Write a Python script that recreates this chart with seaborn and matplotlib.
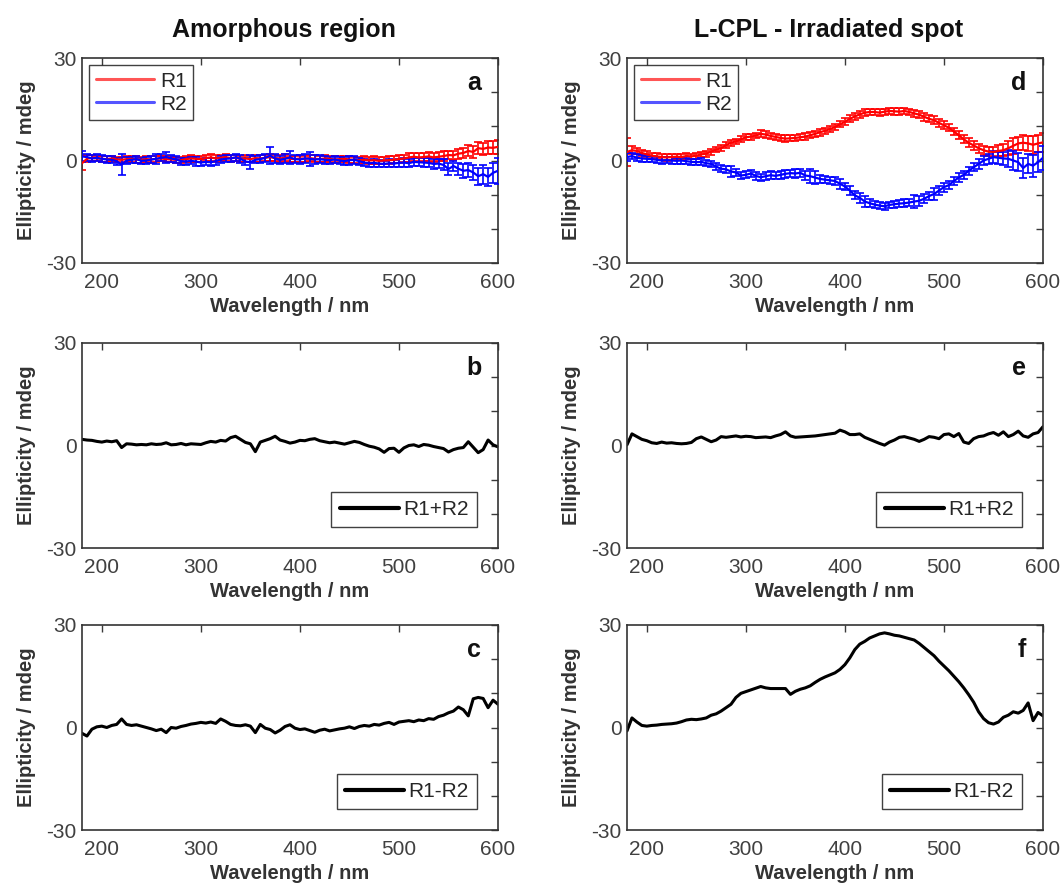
import numpy as np
import pandas as pd
import matplotlib
matplotlib.use("Agg")
import matplotlib.pyplot as plt
import seaborn as sns
from matplotlib.lines import Line2D

# ---------------- data ----------------
wavelength = np.arange(180, 601, 5)  # nm

# Amorphous region
a_R1 = [-0.8, 0.5, 0.8, 0.6, 0.5, 0.4, 0.6, 0.3, 0.2, 0.4,
        0.5, 0.3, 0.2, 0.4, 0.3, 0.5, 0.6, 0.4, 0.3, 0.2,
        0.1, 0.4, 0.6, 0.5, 0.4, 0.7, 0.9, 0.6, 0.8, 1.0,
        0.7, 0.8, 0.5, 0.6, 0.4, 0.7, 0.6, 0.8, 1.0, 0.7,
        0.6, 0.8, 0.5, 0.4, 0.6, 0.5, 0.7, 0.5, 0.4, 0.6,
        0.5, 0.3, 0.4, 0.5, 0.3, 0.2, 0.1, 0.2, 0.0, 0.1,
        -0.1, 0.0, 0.1, 0.2, 0.4, 0.6, 0.9, 1.1, 0.9, 1.0,
        1.2, 0.9, 1.1, 1.3, 1.6, 1.5, 2.0, 2.2, 2.8, 2.5,
        3.6, 3.4, 3.8, 3.7, 4.0]
a_R1_err = [2.0, 1.0, 0.9, 0.8, 0.8, 0.9, 0.8, 0.8, 0.9, 0.8,
            0.8, 0.9, 0.8, 0.8, 0.9, 0.8, 0.8, 0.9, 0.8, 0.8,
            0.8, 0.8, 0.9, 0.8, 0.9, 0.9, 1.0, 0.9, 0.9, 1.0,
            1.0, 0.9, 0.9, 1.0, 0.9, 1.0, 1.0, 0.9, 1.0, 0.9,
            0.9, 1.0, 0.9, 0.9, 1.0, 0.9, 0.9, 1.0, 0.9, 0.9,
            0.9, 1.0, 0.9, 0.9, 1.0, 0.9, 1.0, 1.0, 1.0, 1.1,
            1.0, 1.1, 1.1, 1.0, 1.2, 1.1, 1.2, 1.2, 1.3, 1.2,
            1.3, 1.2, 1.3, 1.4, 1.3, 1.4, 1.5, 1.5, 1.6, 1.7,
            1.8, 1.8, 1.9, 1.9, 2.0]
a_R2 = [1.2, 1.0, 0.6, 0.8, 0.5, 0.3, 0.2, -0.2, -1.2, 0.0,
        0.2, 0.4, -0.1, 0.0, 0.3, 0.5, 0.8, 1.0, 0.6, 0.3,
        -0.2, -0.3, -0.1, -0.3, -0.6, -0.4, -0.5, -0.2, 0.3, 0.5,
        0.6, 0.9, 0.5, -0.3, -0.5, 0.2, 0.4, 0.8, 1.4, 0.6,
        0.2, 0.5, 0.9, 0.4, 0.3, 0.6, 0.5, 0.3, 0.4, 0.2,
        0.1, 0.3, 0.0, -0.2, 0.1, 0.2, -0.2, -0.6, -0.8, -0.7,
        -0.9, -1.0, -0.8, -0.9, -0.7, -0.6, -0.8, -0.4, -0.5, -0.6,
        -0.7, -1.0, -0.9, -1.3, -2.5, -1.6, -2.4, -3.0, -2.8, -3.5,
        -4.6, -4.0, -4.8, -3.6, -3.0]
a_R2_err = [1.5, 1.0, 1.0, 1.0, 1.0, 0.9, 1.0, 1.0, 3.0, 1.1,
            0.9, 1.0, 0.9, 1.0, 1.0, 1.4, 1.0, 1.6, 1.0, 1.0,
            1.0, 1.0, 1.0, 1.2, 1.1, 1.0, 1.1, 1.0, 1.0, 1.0,
            1.1, 1.0, 1.2, 1.1, 2.0, 1.0, 1.2, 1.1, 2.5, 1.2,
            1.1, 1.3, 1.8, 1.1, 1.3, 1.2, 2.0, 1.2, 1.1, 1.1,
            1.0, 1.1, 1.0, 1.1, 1.3, 1.1, 1.0, 1.1, 1.0, 1.1,
            1.1, 1.0, 1.2, 1.1, 1.1, 1.2, 1.1, 1.2, 1.2, 1.3,
            1.3, 1.4, 1.4, 1.6, 1.7, 1.6, 1.8, 2.0, 2.0, 2.3,
            2.5, 2.8, 2.6, 3.0, 3.8]
b_sum = [1.8, 1.6, 1.5, 1.2, 1.0, 1.3, 1.1, 1.4, -0.6, 0.5,
         0.4, 0.2, 0.3, 0.2, 0.5, 0.3, 0.4, 0.8, 0.2, 0.3,
         0.6, 0.2, 0.5, 0.4, 0.3, 0.8, 1.2, 1.0, 1.5, 1.3,
         2.3, 2.7, 1.8, 0.9, 0.5, -1.8, 1.0, 1.5, 2.0, 2.7,
         1.6, 1.2, 0.7, 1.0, 1.5, 1.4, 1.8, 2.0, 1.4, 1.1,
         0.8, 1.0, 0.7, 0.4, 0.8, 1.2, 0.9, 0.3, -0.2, -0.5,
         -1.0, -2.0, -0.9, -0.8, -2.0, -0.7, 0.0, 0.2, -0.3, 0.3,
         0.1, -0.3, -0.6, -0.9, -1.9, -1.2, -0.8, -0.6, 1.1, -0.5,
         -2.1, -1.2, 1.6, 0.2, -0.4]
c_diff = [-1.7, -2.5, -0.5, 0.2, 0.4, 0.0, 0.6, 0.9, 2.5, 0.9,
          0.6, 0.8, 0.4, 0.0, -0.4, -0.9, -0.5, -1.5, 0.0, -0.2,
          0.3, 0.6, 1.0, 1.2, 1.5, 1.3, 1.6, 1.2, 2.5, 1.8,
          0.9, 0.6, 0.5, 0.8, 0.4, -1.5, 0.9, -0.2, -0.6, -1.6,
          -0.8, 0.3, 0.8, -0.2, -0.6, -0.4, -0.9, -1.4, -0.8, -0.5,
          -1.0, -0.7, -0.4, -0.2, 0.2, -0.3, 0.3, 0.6, 0.4, 0.9,
          0.7, 1.2, 1.5, 0.9, 1.6, 1.8, 2.0, 1.7, 2.2, 2.0,
          2.6, 2.4, 3.2, 3.6, 4.3, 4.8, 6.0, 5.2, 3.4, 8.4,
          8.8, 8.5, 5.8, 8.0, 6.8]

# L-CPL irradiated spot
d_R1 = [2.5, 3.0, 2.8, 2.2, 1.8, 1.4, 1.2, 1.0, 0.9, 1.0,
        1.1, 1.0, 1.3, 1.2, 1.4, 1.8, 2.0, 2.6, 3.2, 3.6,
        4.5, 5.2, 5.6, 6.2, 6.8, 7.0, 7.3, 7.8, 7.6, 7.2,
        6.9, 6.6, 6.4, 6.5, 6.6, 6.8, 7.0, 7.4, 7.8, 8.3,
        8.7, 9.2, 9.8, 10.6, 11.3, 12.2, 12.9, 13.5, 14.0, 14.2,
        14.2, 14.0, 14.3, 14.5, 14.4, 14.3, 14.5, 14.2, 13.8, 13.4,
        12.8, 12.2, 11.8, 11.0, 10.3, 9.6, 8.5, 7.4, 6.2, 5.2,
        4.4, 3.6, 3.0, 2.6, 2.5, 2.8, 3.0, 3.6, 4.3, 5.0,
        5.2, 5.0, 4.6, 5.0, 5.3]
d_R1_err = [4.0, 1.2, 1.0, 1.0, 0.9, 0.9, 0.9, 0.8, 0.9, 0.8,
            0.8, 0.9, 0.8, 0.8, 0.9, 0.8, 0.9, 0.9, 0.8, 0.9,
            0.9, 0.9, 0.8, 0.9, 0.9, 0.9, 0.8, 1.0, 0.9, 0.9,
            0.9, 0.9, 1.0, 0.9, 0.9, 0.9, 1.0, 0.9, 0.9, 1.0,
            0.9, 1.0, 1.0, 0.9, 1.0, 1.0, 0.9, 1.0, 1.0, 1.0,
            1.0, 1.0, 0.9, 1.0, 1.0, 1.1, 1.0, 1.0, 1.1, 1.0,
            1.1, 1.0, 1.1, 1.1, 1.2, 1.1, 1.1, 1.2, 1.2, 1.3,
            1.2, 1.3, 1.3, 1.4, 1.5, 1.6, 1.8, 2.0, 2.4, 2.0,
            2.2, 2.3, 2.6, 2.4, 2.8]
d_R2 = [1.0, 1.3, 0.8, 0.6, 0.5, 0.4, 0.2, 0.0, 0.1, 0.0,
        -0.1, 0.0, -0.2, -0.4, -0.5, -0.4, -0.8, -1.0, -1.8, -2.4,
        -2.6, -3.2, -3.5, -4.4, -4.2, -3.8, -4.5, -4.9, -4.6, -4.3,
        -4.5, -4.2, -3.9, -3.7, -3.8, -3.6, -4.4, -4.6, -5.0, -5.4,
        -5.6, -5.8, -6.0, -6.8, -7.6, -8.8, -10.2, -10.9, -12.0, -12.5,
        -12.9, -13.2, -13.4, -13.0, -12.8, -12.6, -12.5, -12.3, -12.0, -11.8,
        -11.2, -10.4, -9.8, -8.8, -7.8, -7.2, -6.0, -5.0, -4.2, -3.0,
        -2.0, -1.0, 0.0, 0.5, 1.0, 0.8, 0.6, 0.5, 0.0, -0.5,
        -2.2, -1.0, -1.5, -0.5, 0.8]
d_R2_err = [1.2, 1.0, 1.0, 0.9, 0.9, 0.9, 0.9, 0.9, 0.9, 0.9,
            0.9, 0.9, 0.9, 0.9, 0.9, 1.0, 0.9, 1.0, 1.0, 1.1,
            1.0, 1.5, 1.0, 1.1, 1.0, 1.0, 1.2, 1.0, 1.1, 1.1,
            1.0, 1.1, 1.1, 1.0, 1.2, 1.2, 1.3, 2.0, 1.8, 1.1,
            1.0, 1.1, 1.2, 1.4, 1.1, 1.3, 1.2, 1.4, 1.6, 1.2,
            1.1, 1.0, 1.1, 1.0, 1.0, 1.1, 1.2, 1.1, 2.0, 1.4,
            1.3, 1.2, 1.8, 1.2, 1.3, 1.2, 1.1, 1.3, 1.2, 1.2,
            1.2, 1.4, 1.3, 1.5, 1.7, 1.8, 2.0, 2.5, 2.8, 2.6,
            3.0, 2.8, 3.2, 3.0, 3.5]
e_sum = [0.2, 3.4, 2.6, 1.8, 1.4, 0.8, 0.6, 1.0, 0.7, 0.8,
         0.6, 0.5, 0.6, 0.9, 2.0, 2.5, 1.8, 1.1, 1.6, 2.6,
         2.4, 2.6, 2.8, 2.5, 2.7, 2.6, 2.3, 2.4, 2.5, 2.3,
         2.8, 3.2, 4.0, 2.8, 2.4, 2.5, 2.6, 2.7, 2.8, 3.0,
         3.2, 3.4, 3.6, 4.5, 4.0, 3.2, 3.2, 3.4, 2.4, 1.8,
         1.2, 0.6, 0.1, 1.0, 1.6, 2.4, 2.6, 2.2, 1.8, 1.2,
         1.8, 2.6, 2.4, 2.0, 3.2, 3.4, 2.6, 3.5, 1.0, 0.6,
         2.0, 2.6, 2.8, 3.4, 3.8, 3.0, 4.0, 2.6, 3.2, 4.2,
         2.8, 2.4, 3.4, 3.8, 5.5]
f_diff = [-1.0, 2.8, 1.6, 0.6, 0.4, 0.6, 0.7, 0.9, 1.0, 1.1,
          1.3, 1.7, 2.2, 2.4, 2.3, 2.5, 2.8, 3.6, 4.0, 4.8,
          5.8, 6.8, 8.8, 10.0, 10.5, 11.0, 11.5, 12.0, 11.6, 11.4,
          11.4, 11.4, 11.4, 9.7, 10.6, 11.2, 11.6, 12.2, 13.2, 14.1,
          14.8, 15.4, 16.0, 17.0, 18.4, 20.4, 22.8, 24.4, 25.2, 26.2,
          26.8, 27.4, 27.7, 27.4, 27.0, 26.8, 26.4, 26.0, 25.6, 24.6,
          23.4, 22.2, 21.0, 19.4, 18.0, 16.6, 15.0, 13.4, 11.6, 9.6,
          7.4, 4.6, 2.6, 1.4, 1.0, 1.6, 3.0, 3.6, 4.6, 4.2,
          5.0, 7.2, 2.0, 4.4, 3.4]

column_titles = ["Amorphous region", "L-CPL - Irradiated spot"]
xticks = [200, 300, 400, 500, 600]
yticks = [-30, -20, -10, 0, 10, 20, 30]
ytick_labels = ["-30", "", "", "0", "", "", "30"]

# ---------------- style ----------------
sns.set_theme(style="white")
plt.rcParams["font.family"] = ["Liberation Sans", "DejaVu Sans"]

fig = plt.figure(figsize=(10.62, 8.86), dpi=100)

W, H = 1062, 886
lefts = [82, 627]
tops = [58, 343, 625]
aw, ah = 416, 205

tick_color = "#3a3a3a"
spine_color = "#333333"


def make_ax(col, row):
    l = lefts[col] / W
    b = 1 - (tops[row] + ah) / H
    return fig.add_axes([l, b, aw / W, ah / H])


def style_ax(ax, letter):
    ax.set_xlim(180, 600)
    ax.set_ylim(-30, 30)
    ax.set_xticks(xticks)
    ax.set_yticks(yticks)
    ax.set_yticklabels(ytick_labels)
    ax.tick_params(direction="in", length=5, width=1.0, top=True, right=True,
                   labelsize=15, colors=tick_color, labelcolor="#404040")
    ax.tick_params(axis="x", pad=7)
    ax.tick_params(axis="y", pad=4)
    for s in ax.spines.values():
        s.set_visible(True)
        s.set_color(spine_color)
        s.set_linewidth(1.2)
    ax.set_xlabel("Wavelength / nm", fontsize=14.5, fontweight="bold",
                  color="#333333", labelpad=4)
    ax.set_ylabel("Ellipticity / mdeg", fontsize=14.5, fontweight="bold",
                  color="#333333", labelpad=7)
    ax.text(0.96, 0.88, letter, transform=ax.transAxes, ha="right", va="center",
            fontsize=18, fontweight="bold", color="#111111")


def errorbar_panel(ax, r1, r1e, r2, r2e, letter):
    df = pd.DataFrame({"wl": np.concatenate([wavelength, wavelength]),
                       "val": np.concatenate([r1, r2]),
                       "series": ["R1"] * len(wavelength) + ["R2"] * len(wavelength)})
    ax.errorbar(wavelength, r1, yerr=r1e, fmt="none", ecolor="#ff0000",
                elinewidth=1.2, capsize=3, capthick=1.2, zorder=2)
    ax.errorbar(wavelength, r2, yerr=r2e, fmt="none", ecolor="#0000ff",
                elinewidth=1.2, capsize=3, capthick=1.2, zorder=3)
    sns.lineplot(data=df, x="wl", y="val", hue="series",
                 palette={"R1": "#ff0000", "R2": "#0000ff"},
                 linewidth=1.6, ax=ax, legend=False, zorder=4)
    handles = [Line2D([], [], color="#ff5555", lw=2.2),
               Line2D([], [], color="#5555ff", lw=2.2)]
    leg = ax.legend(handles, ["R1", "R2"], loc="upper left", fontsize=15,
                    frameon=True, fancybox=False, edgecolor="#111111",
                    handlelength=2.8, handletextpad=0.3, borderpad=0.3,
                    labelspacing=0.2, borderaxespad=0.35)
    leg.get_frame().set_linewidth(1.0)
    style_ax(ax, letter)


def line_panel(ax, vals, label, letter):
    df = pd.DataFrame({"wl": wavelength, "val": vals})
    sns.lineplot(data=df, x="wl", y="val", color="black", linewidth=2.2,
                 ax=ax, label=label)
    leg = ax.legend(loc="lower right", fontsize=15, frameon=True,
                    fancybox=False, edgecolor="#111111", handlelength=2.85,
                    handletextpad=0.2, borderpad=0.4,
                    borderaxespad=1.0)
    for h in leg.get_lines():
        h.set_linewidth(3)
    leg.get_frame().set_linewidth(1.0)
    style_ax(ax, letter)


# column 1
ax_a = make_ax(0, 0)
errorbar_panel(ax_a, a_R1, a_R1_err, a_R2, a_R2_err, "a")
ax_b = make_ax(0, 1)
line_panel(ax_b, b_sum, "R1+R2", "b")
ax_c = make_ax(0, 2)
line_panel(ax_c, c_diff, "R1-R2", "c")

# column 2
ax_d = make_ax(1, 0)
errorbar_panel(ax_d, d_R1, d_R1_err, d_R2, d_R2_err, "d")
ax_e = make_ax(1, 1)
line_panel(ax_e, e_sum, "R1+R2", "e")
ax_f = make_ax(1, 2)
line_panel(ax_f, f_diff, "R1-R2", "f")

for ax, title in zip([ax_a, ax_d], column_titles):
    ax.set_title(title, fontsize=18, fontweight="bold", pad=15,
                 color="#111111", x=0.485)

fig.savefig("out.png", dpi=100)
